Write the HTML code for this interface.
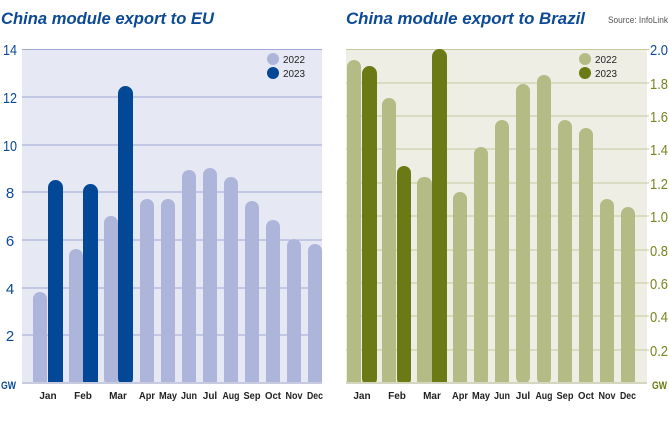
<!DOCTYPE html>
<html><head><meta charset="utf-8"><style>body{margin:0;background:#fff}svg{display:block}</style></head><body>
<svg width="669" height="425" xmlns="http://www.w3.org/2000/svg" font-family="Liberation Sans, sans-serif">
<text x="1" y="24" font-size="17" font-weight="bold" font-style="italic" fill="#0c4a96" textLength="213" lengthAdjust="spacingAndGlyphs">China module export to EU</text>
<text x="346" y="24" font-size="17" font-weight="bold" font-style="italic" fill="#0c4a96" textLength="239" lengthAdjust="spacingAndGlyphs">China module export to Brazil</text>
<text x="608" y="23" font-size="9.5" fill="#555" textLength="60" lengthAdjust="spacingAndGlyphs">Source: InfoLink</text>
<rect x="22" y="49" width="300" height="334" fill="#e6e8f4"/>
<g stroke="#9fa7d4" stroke-width="1">
<line x1="22" y1="49.5" x2="322" y2="49.5"/><line x1="22" y1="97" x2="322" y2="97"/><line x1="22" y1="145" x2="322" y2="145"/><line x1="22" y1="192" x2="322" y2="192"/><line x1="22" y1="240" x2="322" y2="240"/><line x1="22" y1="288" x2="322" y2="288"/><line x1="22" y1="335" x2="322" y2="335"/></g>
<g font-size="15" fill="#0c4a96" text-anchor="middle" lengthAdjust="spacingAndGlyphs"><text x="10" y="55" textLength="14" lengthAdjust="spacingAndGlyphs">14</text><text x="10" y="103" textLength="14" lengthAdjust="spacingAndGlyphs">12</text><text x="10" y="151" textLength="14" lengthAdjust="spacingAndGlyphs">10</text><text x="10" y="198">8</text><text x="10" y="246">6</text><text x="10" y="294">4</text><text x="10" y="341">2</text></g>
<text x="1" y="389" font-size="11" font-weight="bold" fill="#0c4a96" textLength="15" lengthAdjust="spacingAndGlyphs">GW</text>
<g fill="#aeb5da">
<rect x="33" y="292" width="14" height="100" rx="7"/><rect x="69" y="249" width="14" height="140" rx="7"/><rect x="104" y="216" width="14" height="170" rx="7"/>
<rect x="140" y="199" width="14" height="190" rx="7"/><rect x="161" y="199" width="14" height="190" rx="7"/><rect x="182" y="170" width="14" height="220" rx="7"/><rect x="203" y="168" width="14" height="220" rx="7"/><rect x="224" y="177" width="14" height="220" rx="7"/><rect x="245" y="201" width="14" height="190" rx="7"/><rect x="266" y="220" width="14" height="170" rx="7"/><rect x="287" y="239" width="14" height="150" rx="7"/><rect x="308" y="244" width="14" height="150" rx="7"/></g>
<g fill="#034896"><rect x="48" y="180" width="15" height="210" rx="7.5"/><rect x="83" y="184" width="15" height="210" rx="7.5"/><rect x="118" y="86" width="15" height="300" rx="7.5"/></g>
<rect x="18" y="384" width="306" height="20" fill="#fff"/>
<line x1="22" y1="383" x2="322" y2="383" stroke="#c8cbe0" stroke-width="2"/>
<circle cx="273" cy="59" r="6" fill="#aeb5da"/><circle cx="273" cy="73" r="6" fill="#034896"/>
<g font-size="10.5" fill="#222"><text x="283" y="63" textLength="22" lengthAdjust="spacingAndGlyphs">2022</text><text x="283" y="77" textLength="22" lengthAdjust="spacingAndGlyphs">2023</text></g>
<g font-size="10" fill="#222" text-anchor="middle" font-weight="bold">
<text x="48" y="399">Jan</text><text x="83" y="399">Feb</text><text x="118" y="399">Mar</text><text x="147" y="399" textLength="16" lengthAdjust="spacingAndGlyphs">Apr</text><text x="168" y="399" textLength="18" lengthAdjust="spacingAndGlyphs">May</text><text x="189" y="399" textLength="16" lengthAdjust="spacingAndGlyphs">Jun</text><text x="210" y="399">Jul</text><text x="231" y="399" textLength="17" lengthAdjust="spacingAndGlyphs">Aug</text><text x="252" y="399" textLength="17" lengthAdjust="spacingAndGlyphs">Sep</text><text x="273" y="399" textLength="16" lengthAdjust="spacingAndGlyphs">Oct</text><text x="294" y="399" textLength="17" lengthAdjust="spacingAndGlyphs">Nov</text><text x="315" y="399" textLength="16" lengthAdjust="spacingAndGlyphs">Dec</text></g>
<rect x="346" y="49" width="301" height="334" fill="#eeeee5"/>
<g stroke="#c5c9a0" stroke-width="1">
<line x1="346" y1="49.5" x2="649" y2="49.5"/><line x1="346" y1="83" x2="649" y2="83"/><line x1="346" y1="116" x2="649" y2="116"/><line x1="346" y1="149" x2="649" y2="149"/><line x1="346" y1="183" x2="649" y2="183"/><line x1="346" y1="216" x2="649" y2="216"/><line x1="346" y1="250" x2="649" y2="250"/><line x1="346" y1="283" x2="649" y2="283"/><line x1="346" y1="316" x2="649" y2="316"/><line x1="346" y1="350" x2="649" y2="350"/></g>
<g fill="#b5bb85">
<rect x="347" y="60" width="14" height="330" rx="7"/><rect x="382" y="98" width="14" height="300" rx="7"/><rect x="417" y="177" width="15" height="210" rx="7"/>
<rect x="453" y="192" width="14" height="200" rx="7"/><rect x="474" y="147" width="14" height="240" rx="7"/><rect x="495" y="120" width="14" height="270" rx="7"/><rect x="516" y="84" width="14" height="300" rx="7"/><rect x="537" y="75" width="14" height="310" rx="7"/><rect x="558" y="120" width="14" height="270" rx="7"/><rect x="579" y="128" width="14" height="260" rx="7"/><rect x="600" y="199" width="14" height="190" rx="7"/><rect x="621" y="207" width="14" height="180" rx="7"/></g>
<g fill="#6b7a14"><rect x="362" y="66" width="15" height="320" rx="7.5"/><rect x="397" y="166" width="14" height="220" rx="7"/><rect x="432" y="49" width="15" height="340" rx="7.5"/></g>
<rect x="342" y="384" width="310" height="20" fill="#fff"/>
<line x1="346" y1="383" x2="647" y2="383" stroke="#d4d6c0" stroke-width="2"/>
<circle cx="585" cy="59" r="6" fill="#b5bb85"/><circle cx="585" cy="73" r="6" fill="#6b7a14"/>
<g font-size="10.5" fill="#222"><text x="595" y="63" textLength="22" lengthAdjust="spacingAndGlyphs">2022</text><text x="595" y="77" textLength="22" lengthAdjust="spacingAndGlyphs">2023</text></g>
<g font-size="15" fill="#7a8420">
<text x="650" y="55" fill="#0c4a96" textLength="18" lengthAdjust="spacingAndGlyphs">2.0</text><text x="650" y="89" textLength="18" lengthAdjust="spacingAndGlyphs">1.8</text><text x="650" y="122" textLength="18" lengthAdjust="spacingAndGlyphs">1.6</text><text x="650" y="155" textLength="18" lengthAdjust="spacingAndGlyphs">1.4</text><text x="650" y="189" textLength="18" lengthAdjust="spacingAndGlyphs">1.2</text><text x="650" y="222" textLength="18" lengthAdjust="spacingAndGlyphs">1.0</text><text x="650" y="256" textLength="18" lengthAdjust="spacingAndGlyphs">0.8</text><text x="650" y="289" textLength="18" lengthAdjust="spacingAndGlyphs">0.6</text><text x="650" y="322" textLength="18" lengthAdjust="spacingAndGlyphs">0.4</text><text x="650" y="356" textLength="18" lengthAdjust="spacingAndGlyphs">0.2</text></g>
<text x="652" y="389" font-size="11" font-weight="bold" fill="#6b7a14" textLength="15" lengthAdjust="spacingAndGlyphs">GW</text>
<g font-size="10" fill="#222" text-anchor="middle" font-weight="bold">
<text x="362" y="399">Jan</text><text x="397" y="399">Feb</text><text x="432" y="399">Mar</text><text x="460" y="399" textLength="16" lengthAdjust="spacingAndGlyphs">Apr</text><text x="481" y="399" textLength="18" lengthAdjust="spacingAndGlyphs">May</text><text x="502" y="399" textLength="16" lengthAdjust="spacingAndGlyphs">Jun</text><text x="523" y="399">Jul</text><text x="544" y="399" textLength="17" lengthAdjust="spacingAndGlyphs">Aug</text><text x="565" y="399" textLength="17" lengthAdjust="spacingAndGlyphs">Sep</text><text x="586" y="399" textLength="16" lengthAdjust="spacingAndGlyphs">Oct</text><text x="607" y="399" textLength="17" lengthAdjust="spacingAndGlyphs">Nov</text><text x="628" y="399" textLength="16" lengthAdjust="spacingAndGlyphs">Dec</text></g>
</svg>
</body></html>
